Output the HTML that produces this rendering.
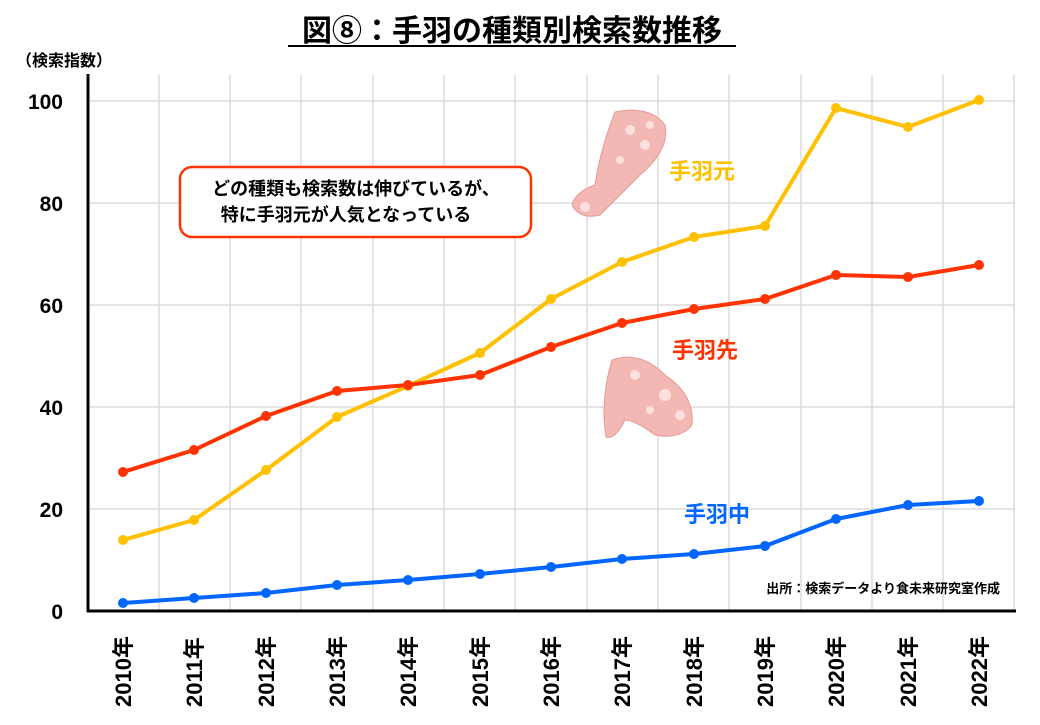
<!DOCTYPE html>
<html><head><meta charset="utf-8"><style>
body{margin:0;background:#fff;}
svg text{font-family:"Liberation Sans","Noto Sans CJK JP",sans-serif;font-weight:bold;}
</style></head><body>
<svg width="1040" height="720" viewBox="0 0 1040 720" xmlns="http://www.w3.org/2000/svg">
<text x="512" y="41" font-size="30" text-anchor="middle" fill="#000">図⑧：手羽の種類別検索数推移</text>
<line x1="288" y1="46" x2="736" y2="46" stroke="#000" stroke-width="2"/>
<text x="16" y="66" font-size="16" fill="#000">（検索指数）</text>
<g stroke="#dcdcdc" stroke-width="1.5">
<line x1="88" y1="101" x2="1015" y2="101"/><line x1="88" y1="203" x2="1015" y2="203"/><line x1="88" y1="305" x2="1015" y2="305"/><line x1="88" y1="407" x2="1015" y2="407"/><line x1="88" y1="509" x2="1015" y2="509"/>
<line x1="159" y1="75" x2="159" y2="611"/><line x1="230" y1="75" x2="230" y2="611"/><line x1="301" y1="75" x2="301" y2="611"/><line x1="373" y1="75" x2="373" y2="611"/><line x1="444" y1="75" x2="444" y2="611"/><line x1="515" y1="75" x2="515" y2="611"/><line x1="587" y1="75" x2="587" y2="611"/><line x1="658" y1="75" x2="658" y2="611"/><line x1="729" y1="75" x2="729" y2="611"/><line x1="801" y1="75" x2="801" y2="611"/><line x1="872" y1="75" x2="872" y2="611"/><line x1="943" y1="75" x2="943" y2="611"/><line x1="1014" y1="75" x2="1014" y2="611"/>
</g>
<line x1="88" y1="74" x2="88" y2="612" stroke="#000" stroke-width="3"/>
<line x1="87" y1="611" x2="1016" y2="611" stroke="#000" stroke-width="3"/>
<g font-size="21" text-anchor="end" fill="#000">
<text x="63" y="109">100</text><text x="63" y="211">80</text><text x="63" y="313">60</text><text x="63" y="415">40</text><text x="63" y="517">20</text><text x="63" y="619">0</text>
</g>
<g font-size="22" fill="#000">
<text transform="translate(131,707) rotate(-90)">2010年</text>
<text transform="translate(202,707) rotate(-90)">2011年</text>
<text transform="translate(274,707) rotate(-90)">2012年</text>
<text transform="translate(345,707) rotate(-90)">2013年</text>
<text transform="translate(416,707) rotate(-90)">2014年</text>
<text transform="translate(488,707) rotate(-90)">2015年</text>
<text transform="translate(559,707) rotate(-90)">2016年</text>
<text transform="translate(630,707) rotate(-90)">2017年</text>
<text transform="translate(702,707) rotate(-90)">2018年</text>
<text transform="translate(773,707) rotate(-90)">2019年</text>
<text transform="translate(844,707) rotate(-90)">2020年</text>
<text transform="translate(916,707) rotate(-90)">2021年</text>
<text transform="translate(987,707) rotate(-90)">2022年</text>
</g>
<g fill="#f4b8b4" stroke="#e59a96" stroke-width="1">
<path d="M615 112 Q650 105 665 125 Q670 150 640 175 Q620 195 600 215 Q580 220 572 205 Q575 192 595 185 Q600 150 615 112Z"/>
<path d="M612 360 Q640 350 665 375 Q695 395 692 425 Q680 440 655 435 Q635 420 625 420 Q615 440 606 437 Q600 400 612 360Z"/>
</g>
<g fill="#fbe0dd">
<circle cx="630" cy="130" r="5"/><circle cx="645" cy="145" r="5"/><circle cx="620" cy="160" r="4"/><circle cx="650" cy="125" r="4"/><circle cx="585" cy="207" r="5"/>
<circle cx="635" cy="375" r="5"/><circle cx="665" cy="395" r="6"/><circle cx="680" cy="415" r="5"/><circle cx="650" cy="410" r="4"/>
</g>
<rect x="180" y="167" width="351" height="70" rx="12" fill="#fff" stroke="#ff3300" stroke-width="2.5"/>
<text x="356" y="195" font-size="18" text-anchor="middle" fill="#000">どの種類も検索数は伸びているが、</text>
<text x="346" y="221" font-size="18" text-anchor="middle" fill="#000">特に手羽元が人気となっている</text>
<g fill="none" stroke-width="4" stroke-linejoin="round">
<polyline stroke="#ffc000" points="123,540 194,520 266,470 337,417 408,386 480,353 551,299 622,262 694,237 765,226 836,108 908,127 979,100"/>
<polyline stroke="#ff3300" points="123,472 194,450 266,416 337,391 408,385 480,375 551,347 622,323 694,309 765,299 836,275 908,277 979,265"/>
<polyline stroke="#0066ff" points="123,603 194,598 266,593 337,585 408,580 480,574 551,567 622,559 694,554 765,546 836,519 908,505 979,501"/>
</g>
<g fill="#ffc000"><circle cx="123" cy="540" r="5"/><circle cx="194" cy="520" r="5"/><circle cx="266" cy="470" r="5"/><circle cx="337" cy="417" r="5"/><circle cx="408" cy="386" r="5"/><circle cx="480" cy="353" r="5"/><circle cx="551" cy="299" r="5"/><circle cx="622" cy="262" r="5"/><circle cx="694" cy="237" r="5"/><circle cx="765" cy="226" r="5"/><circle cx="836" cy="108" r="5"/><circle cx="908" cy="127" r="5"/><circle cx="979" cy="100" r="5"/></g>
<g fill="#ff3300"><circle cx="123" cy="472" r="5"/><circle cx="194" cy="450" r="5"/><circle cx="266" cy="416" r="5"/><circle cx="337" cy="391" r="5"/><circle cx="408" cy="385" r="5"/><circle cx="480" cy="375" r="5"/><circle cx="551" cy="347" r="5"/><circle cx="622" cy="323" r="5"/><circle cx="694" cy="309" r="5"/><circle cx="765" cy="299" r="5"/><circle cx="836" cy="275" r="5"/><circle cx="908" cy="277" r="5"/><circle cx="979" cy="265" r="5"/></g>
<g fill="#0066ff"><circle cx="123" cy="603" r="5"/><circle cx="194" cy="598" r="5"/><circle cx="266" cy="593" r="5"/><circle cx="337" cy="585" r="5"/><circle cx="408" cy="580" r="5"/><circle cx="480" cy="574" r="5"/><circle cx="551" cy="567" r="5"/><circle cx="622" cy="559" r="5"/><circle cx="694" cy="554" r="5"/><circle cx="765" cy="546" r="5"/><circle cx="836" cy="519" r="5"/><circle cx="908" cy="505" r="5"/><circle cx="979" cy="501" r="5"/></g>
<text x="669" y="179" font-size="22" fill="#ffc000">手羽元</text>
<text x="672" y="358" font-size="22" fill="#ff3300">手羽先</text>
<text x="684" y="522" font-size="22" fill="#0066ff">手羽中</text>
<text x="1000" y="593" font-size="13" text-anchor="end" fill="#000">出所：検索データより食未来研究室作成</text>
</svg>
</body></html>
